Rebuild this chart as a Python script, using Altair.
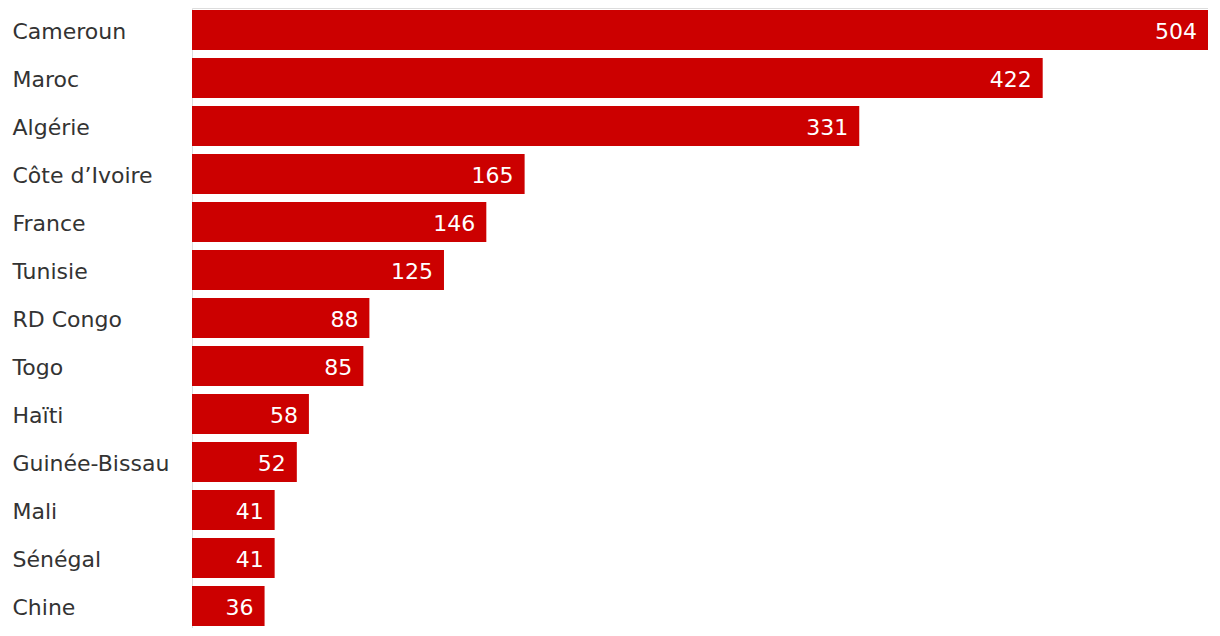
import altair as alt
import pandas as pd

countries = ["Cameroun", "Maroc", "Algérie", "Côte d’Ivoire", "France", "Tunisie",
             "RD Congo", "Togo", "Haïti", "Guinée-Bissau", "Mali", "Sénégal", "Chine"]
values = [504, 422, 331, 165, 146, 125, 88, 85, 58, 52, 41, 41, 36]

df = pd.DataFrame({"pays": countries, "valeur": values})

FONT = "DejaVu Sans"
y = alt.Y("pays:N", sort=countries, title=None,
          scale=alt.Scale(paddingInner=1/6, paddingOuter=1/24),
          axis=alt.Axis(labelAlign="left", labelPadding=180, ticks=False, domain=False,
                        labelFont=FONT, labelFontSize=22, labelColor="#333333",
                        labelLimit=0, labelOffset=2))
x = alt.X("valeur:Q", title=None, axis=None, scale=alt.Scale(domain=[0, 504], nice=False))

bars = alt.Chart(df).mark_bar(color="#CC0000").encode(x=x, y=y)
labels = alt.Chart(df).mark_text(align="right", baseline="middle", dx=-11, dy=2,
                                 color="white", font=FONT, fontSize=22).encode(
    x=x, y=y, text="valeur:Q")

chart = (bars + labels).properties(
    width=1016, height=620,
    padding={"left": 4, "top": 0, "right": 0, "bottom": 0}
).configure_view(stroke=None).configure(background="white")

chart.save("out.html", embed_options={"renderer": "svg", "actions": False})
